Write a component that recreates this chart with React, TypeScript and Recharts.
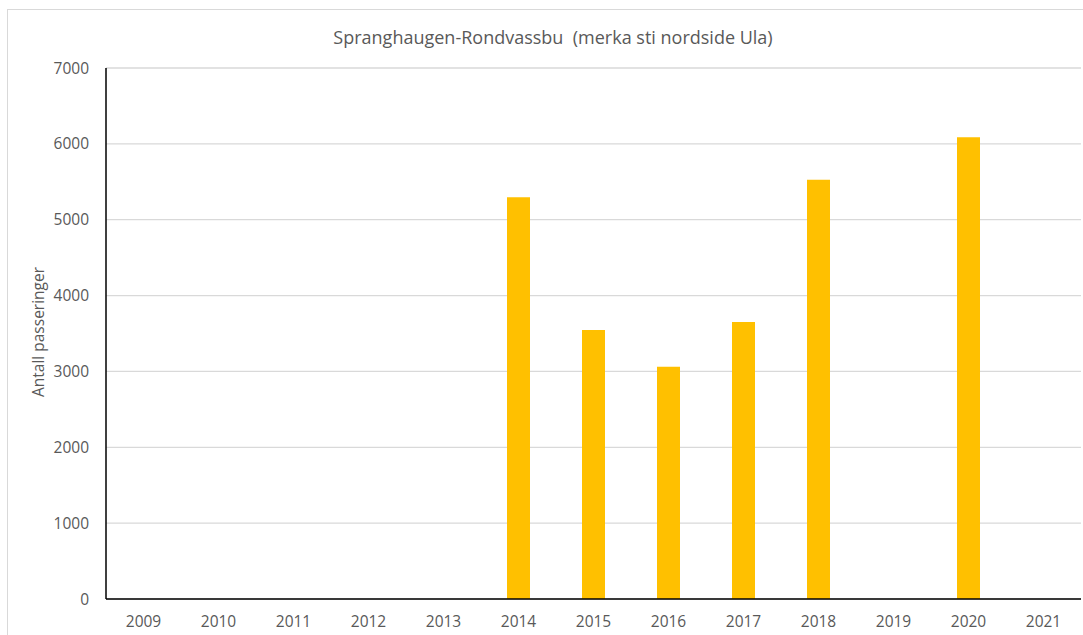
import React from "react";
import { BarChart, Bar, XAxis, YAxis, CartesianGrid } from "recharts";

const years = ["2009", "2010", "2011", "2012", "2013", "2014", "2015", "2016", "2017", "2018", "2019", "2020", "2021"];
const passes: (number | null)[] = [null, null, null, null, null, 5295, 3546, 3062, 3651, 5528, null, 6086, null];
const yTicks = [0, 1000, 2000, 3000, 4000, 5000, 6000, 7000];

const data = years.map((y, i) => ({ year: y, value: passes[i] }));

const font = "'Open Sans', sans-serif";

export default function App() {
  return (
    <div style={{ position: "absolute", left: 0, top: 0, width: 1083, height: 635, background: "#fff", fontFamily: font }}>
      <div style={{ position: "absolute", left: 7, top: 9, width: 1090, height: 640, border: "1px solid #d9d9d9", boxSizing: "border-box" }} />
      <div style={{ position: "absolute", left: 0, top: 25, width: 1106, textAlign: "center", fontSize: 18, color: "#595959", lineHeight: "24px" }}>
        Spranghaugen-Rondvassbu&nbsp; (merka sti nordside Ula)
      </div>
      <div style={{ position: "absolute", left: 38, top: 332, transform: "translate(-50%, -50%) rotate(-90deg)", fontSize: 15.5, color: "#595959", whiteSpace: "nowrap" }}>
        Antall passeringer
      </div>
      <div style={{ position: "absolute", left: 0, top: 0 }}>
        <BarChart width={1083} height={635} data={data} margin={{ top: 68, right: 2, bottom: 0, left: 0 }}>
          <CartesianGrid horizontal={true} vertical={false} stroke="#d9d9d9" strokeWidth={1.3} />
          <XAxis
            dataKey="year"
            height={36}
            tickLine={false}
            tickSize={0}
            tickMargin={17}
            axisLine={{ stroke: "#000", strokeWidth: 1.5 }}
            tick={{ fill: "#595959", fontSize: 15.5, fontFamily: font }}
            interval={0}
          />
          <YAxis
            width={106}
            domain={[0, 7000]}
            ticks={yTicks}
            tickLine={false}
            tickSize={0}
            tickMargin={17}
            axisLine={{ stroke: "#000", strokeWidth: 1.5 }}
            tick={{ fill: "#595959", fontSize: 15.5, fontFamily: font }}
          />
          <Bar dataKey="value" fill="#FFC000" barSize={23} isAnimationActive={false} />
        </BarChart>
      </div>
    </div>
  );
}
